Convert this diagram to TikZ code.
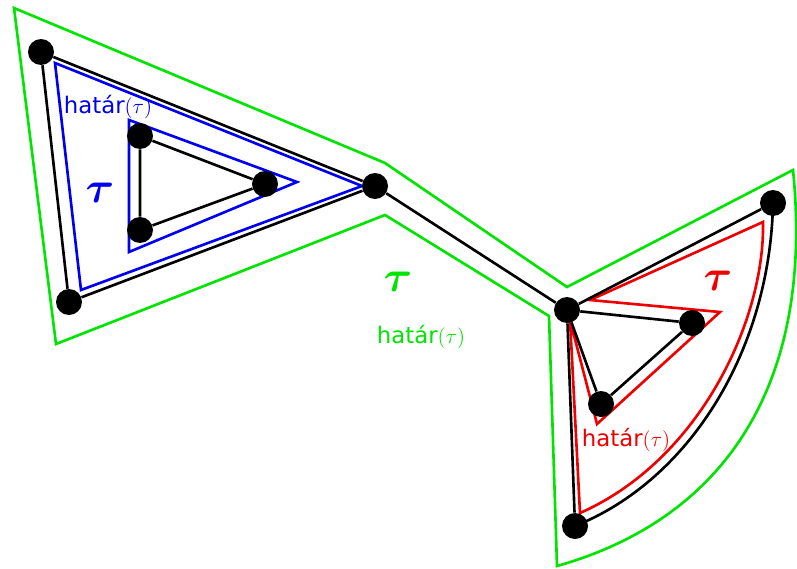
\documentclass[tikz,border=0pt]{standalone}
\usepackage{bm}
\usepackage{fontspec}
\setmainfont{DejaVu Sans}
\usepackage{tikz}
\usetikzlibrary{calc}
\definecolor{BndGreen}{HTML}{00E400}
\definecolor{BndBlue}{HTML}{0000EE}
\definecolor{BndRed}{HTML}{EE0000}
\newcommand{\hatar}{határ{\fontsize{11.5}{13}\selectfont$(\tau)$}}

\begin{document}
\begin{tikzpicture}[
        x=0.02cm, y=-0.02cm,
        vtx/.style={circle, fill=black, inner sep=0pt, minimum size=0.52cm},
        edge/.style={line width=1.5pt, draw=black},
        bnd/.style={line width=1.5pt, line join=miter},
        lbl/.style={font=\fontsize{13}{15}\selectfont, inner sep=1pt},
        tau/.style={font=\fontsize{30}{34}\selectfont, inner sep=1pt}
    ]
        \clip (0,0) rectangle (797,568);

        % outer boundary
        \draw[bnd, draw=BndGreen] (14,8) -- (385,163) -- (567,287) -- (793,170)
            .. controls (815,390) and (720,520) .. (557,566)
            -- (549,316) -- (385,215) -- (56,344) -- cycle;

        % left part
        \draw[bnd, draw=BndBlue] (55,63) -- (362,186) -- (81,290) -- cycle;
        \draw[bnd, draw=BndBlue] (129,120) -- (297,182) -- (129,252) -- cycle;

        % right part
        \draw[bnd, draw=BndRed] (570,320) -- (580,513)
            .. controls (700,460) and (765,320) .. (763,222)
            -- (590,300) -- (720,312) -- (597,424) -- cycle;

        \node[vtx] (a) at (41,52) {};
        \node[vtx] (b) at (69,302) {};
        \node[vtx] (c) at (375,186) {};
        \node[vtx] (d) at (140,136) {};
        \node[vtx] (e) at (265,184) {};
        \node[vtx] (f) at (140,230) {};
        \node[vtx] (g) at (567,310) {};
        \node[vtx] (h) at (773,203) {};
        \node[vtx] (i) at (575,526) {};
        \node[vtx] (j) at (692,323) {};
        \node[vtx] (k) at (601,404) {};

        \draw[edge] (a) -- (c) -- (b) -- (a);
        \draw[edge] (d) -- (e) -- (f) -- (d);
        \draw[edge] (c) -- (g);
        \draw[edge] (g) -- (h);
        \draw[edge] (g) -- (i);
        \draw[edge] (h.center) .. controls (770,350) and (690,480) .. (i.center);
        \draw[edge] (g) -- (j) -- (k) -- (g);

        % labels
        \node[lbl, text=BndBlue] (bhat) at (108,107) {\hatar};
        \node[tau, text=BndBlue] (btau) at (100,193) {$\bm{\tau}$};
        \node[tau, text=BndGreen] (gtau) at (398,282) {$\bm{\tau}$};
        \node[lbl, text=BndGreen] (ghat) at (421,337) {\hatar};
        \node[tau, text=BndRed] (rtau) at (718,281) {$\bm{\tau}$};
        \node[lbl, text=BndRed] (rhat) at (626,440) {\hatar};
    \end{tikzpicture}
\end{document}
